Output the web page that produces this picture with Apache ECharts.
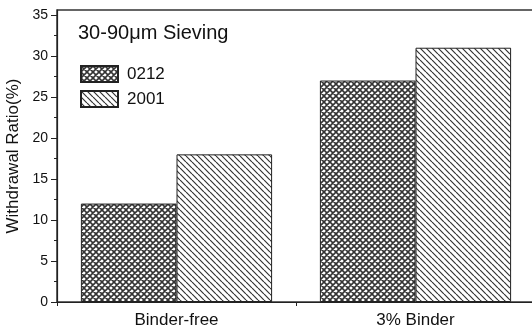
<!DOCTYPE html>
<html>
<head>
<meta charset="utf-8">
<script src="https://cdn.jsdelivr.net/npm/echarts@6/dist/echarts.min.js"></script>
<style>
  html, body { margin: 0; padding: 0; background: #fff; }
  #chart { width: 532px; height: 331px; }
</style>
</head>
<body>
<div id="chart"></div>
<script>
// Withdrawal ratio by binder condition for two powder lots
const categories = ['Binder-free', '3% Binder'];
const seriesNames = ['0212', '2001'];
const values0212 = [12, 27];
const values2001 = [18, 31];
const yMajorTicks = [0, 5, 10, 15, 20, 25, 30, 35];
const yMinorTicks = [2.5, 7.5, 12.5, 17.5, 22.5, 27.5, 32.5];

const FONT = 'Liberation Sans, Arial, sans-serif';
const INK = '#222';

// Hatch tiles drawn on small canvases and repeated as fills
function hatchTile(size, cross, width) {
  const c = document.createElement('canvas');
  c.width = size; c.height = size;
  const g = c.getContext('2d');
  g.fillStyle = '#fff';
  g.fillRect(0, 0, size, size);
  g.strokeStyle = '#333';
  g.lineWidth = width;
  g.beginPath();
  for (let k = -1; k <= 1; k++) {
    g.moveTo(k * size, 0);
    g.lineTo(k * size + size, size);
    if (cross) {
      g.moveTo(k * size, size);
      g.lineTo(k * size + size, 0);
    }
  }
  g.stroke();
  return c;
}

const crossFill = { image: hatchTile(6, true, 1.6), repeat: 'repeat' };
const diagFill = { image: hatchTile(6, false, 1.2), repeat: 'repeat' };

const chart = echarts.init(document.getElementById('chart'), null, { renderer: 'canvas' });

chart.setOption({
  animation: false,
  backgroundColor: '#fff',
  textStyle: { fontFamily: FONT },
  title: {
    text: '30-90\u03bcm Sieving',
    left: 78,
    top: 23,
    padding: 0,
    textStyle: { fontFamily: FONT, fontSize: 20, fontWeight: 'normal', color: '#111' }
  },
  legend: {
    orient: 'vertical',
    left: 80,
    top: 65,
    padding: 0,
    itemWidth: 37,
    itemHeight: 16,
    itemGap: 7,
    icon: 'rect',
    data: seriesNames,
    textStyle: { fontFamily: FONT, fontSize: 17, color: '#111', padding: [0, 0, 0, 4] }
  },
  grid: {
    left: 57,
    top: 10,
    width: 478,
    bottom: 29,
    outerBoundsMode: 'none',
    show: true,
    borderColor: '#333',
    borderWidth: 1.5,
    backgroundColor: 'transparent'
  },
  xAxis: {
    type: 'category',
    data: categories,
    axisLine: { lineStyle: { color: INK, width: 1.2 } },
    axisTick: { show: true, length: 4, lineStyle: { color: INK } },
    axisLabel: { fontFamily: FONT, fontSize: 17, color: '#111', margin: 10 }
  },
  yAxis: [
    {
      type: 'value',
      min: 0,
      max: 35.6,
      interval: 5,
      name: 'Withdrawal Ratio(%)',
      nameLocation: 'middle',
      nameGap: 34,
      nameTextStyle: { fontFamily: FONT, fontSize: 17, color: '#111' },
      axisLine: { show: true, lineStyle: { color: INK, width: 1.2 } },
      axisTick: { show: true, length: 6, customValues: yMajorTicks, lineStyle: { color: INK } },
      axisLabel: { fontFamily: FONT, fontSize: 14, color: '#111', margin: 9, customValues: yMajorTicks },
      splitLine: { show: false }
    },
    {
      type: 'value',
      min: 0,
      max: 35.6,
      position: 'left',
      axisLine: { show: false },
      axisTick: { show: true, length: 3, customValues: yMinorTicks, lineStyle: { color: INK } },
      axisLabel: { show: false },
      splitLine: { show: false }
    }
  ],
  series: [
    {
      name: seriesNames[0],
      type: 'bar',
      data: values0212,
      barGap: '0%',
      barCategoryGap: '20%',
      itemStyle: { color: crossFill, borderColor: INK, borderWidth: 1 }
    },
    {
      name: seriesNames[1],
      type: 'bar',
      data: values2001,
      barGap: '0%',
      barCategoryGap: '20%',
      itemStyle: { color: diagFill, borderColor: INK, borderWidth: 1 }
    }
  ]
});
</script>
</body>
</html>
